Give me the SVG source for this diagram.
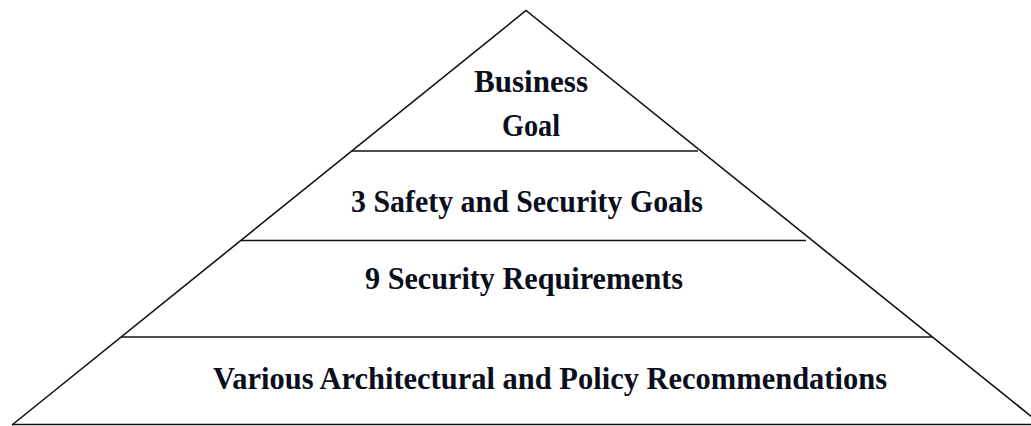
<svg xmlns="http://www.w3.org/2000/svg" width="1031" height="426" viewBox="0 0 1031 426">
<style>
.ln{stroke:#111;stroke-width:1.6;fill:none}
.t{font-family:"Liberation Serif","Times New Roman",serif;font-weight:bold;font-size:32px;fill:#0b0f1c;text-anchor:middle}
</style>
<rect width="1031" height="426" fill="#fff"/>
<g id="connectors">
<polyline class="ln" points="12,425 526,10.5 1042,425"/>
<line class="ln" x1="12" y1="424.5" x2="1031" y2="424.5"/>
<line class="ln" x1="352" y1="151" x2="698" y2="151"/>
<line class="ln" x1="241" y1="240.5" x2="806" y2="240.5"/>
<line class="ln" x1="121" y1="337" x2="932" y2="337"/>
</g>
<g id="node-business-goal">
<text class="t" x="531" y="92" textLength="114" lengthAdjust="spacingAndGlyphs">Business</text>
<text class="t" x="531" y="136" textLength="58" lengthAdjust="spacingAndGlyphs">Goal</text>
</g>
<g id="node-safety-security-goals">
<text class="t" x="527" y="212" textLength="352" lengthAdjust="spacingAndGlyphs">3 Safety and Security Goals</text>
</g>
<g id="node-security-requirements">
<text class="t" x="524" y="289" textLength="318" lengthAdjust="spacingAndGlyphs">9 Security Requirements</text>
</g>
<g id="node-recommendations">
<text class="t" x="550" y="389" textLength="674" lengthAdjust="spacingAndGlyphs">Various Architectural and Policy Recommendations</text>
</g>
</svg>
